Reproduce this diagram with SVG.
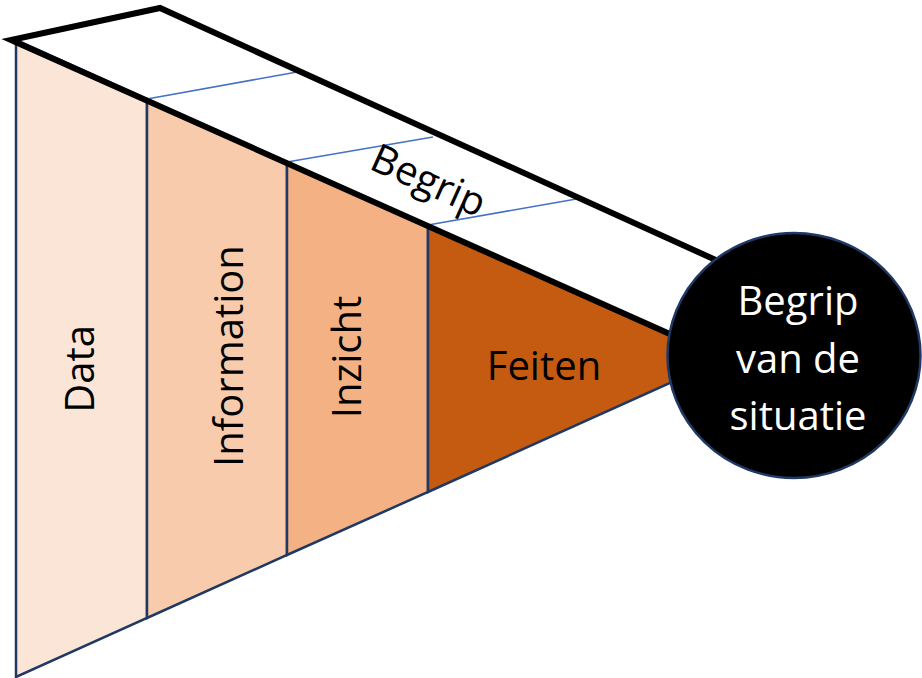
<svg xmlns="http://www.w3.org/2000/svg" width="922" height="678" viewBox="0 0 922 678">
<style>
.sec{stroke:#1f3864;stroke-width:2.5;stroke-linejoin:miter}
.edge{stroke:#000;stroke-width:6;fill:none;stroke-linecap:butt}
.div{stroke:#4472c4;stroke-width:1.5;fill:none}
.lbl{font-family:"Open Sans",Lato,sans-serif;font-size:40px;text-anchor:middle;fill:#000}
.wlbl{font-family:"Open Sans",Lato,sans-serif;font-size:40px;text-anchor:middle;fill:#fff}
</style>
<rect width="922" height="678" fill="#fff"/>
<g id="data">
<polygon class="sec" points="16,40 147,99 147,618 16,677" fill="#fbe5d6"/>
<text class="lbl" transform="translate(94,369) rotate(-90)">Data</text>
</g>
<g id="information">
<polygon class="sec" points="147,99 287,162 287,555 147,618" fill="#f8cbad"/>
<text class="lbl" transform="translate(243,356) rotate(-90)">Information</text>
</g>
<g id="inzicht">
<polygon class="sec" points="287,162 428,225 428,492 287,555" fill="#f4b183"/>
<text class="lbl" transform="translate(361,357) rotate(-90)">Inzicht</text>
</g>
<g id="feiten">
<polygon class="sec" points="428,225 690,343 690,374 428,492" fill="#c55a11"/>
<text class="lbl" x="544" y="380">Feiten</text>
</g>
<g id="begrip-band">
<line class="div" x1="147" y1="99" x2="297" y2="72"/>
<line class="div" x1="287" y1="162" x2="433" y2="137"/>
<line class="div" x1="428" y1="225" x2="582" y2="198"/>
<text class="lbl" transform="translate(423,193) rotate(24.2)">Begrip</text>
</g>
<g id="connectors">
<polyline class="edge" points="740,271 160,8 11,40 690,343"/>
</g>
<g id="begrip-situatie">
<ellipse cx="794" cy="355.5" rx="126.5" ry="122.5" fill="#000" stroke="#1f3864" stroke-width="2.5"/>
<text class="wlbl" x="798" y="315">Begrip</text>
<text class="wlbl" x="798" y="373">van de</text>
<text class="wlbl" x="798" y="430">situatie</text>
</g>
</svg>
